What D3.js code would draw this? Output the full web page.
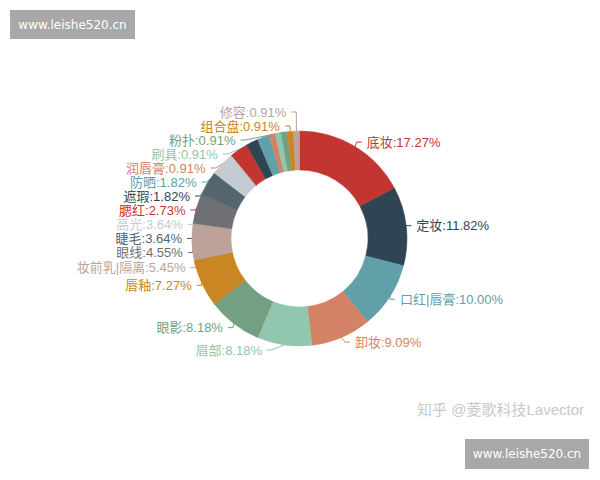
<!DOCTYPE html>
<html>
<head>
<meta charset="utf-8">
<script src="https://cdn.jsdelivr.net/npm/d3@7"></script>
<style>
  html, body { margin: 0; padding: 0; background: #ffffff; }
  svg { display: block; }
</style>
</head>
<body>
<svg id="chart" width="600" height="480"></svg>
<script>
// ---- data ----
const categories = ["底妆", "定妆", "口红|唇膏", "卸妆", "眉部", "眼影", "唇釉", "妆前乳|隔离", "眼线", "睫毛",
  "高光", "腮红", "遮瑕", "防晒", "润唇膏", "刷具", "粉扑", "组合盘", "修容"];
const shares = [17.27, 11.82, 10.00, 9.09, 8.18, 8.18, 7.27, 5.45, 4.55, 3.64,
  3.64, 2.73, 1.82, 1.82, 0.91, 0.91, 0.91, 0.91, 0.91];
const palette = ["#c23531", "#2f4554", "#61a0a8", "#d48265", "#91c7ae", "#749f83",
  "#ca8622", "#bda29a", "#6e7074", "#546570", "#c4ccd3"];
const watermarkText = "www.leishe520.cn";
const creditText = "知乎 @菱歌科技Lavector";

// ---- layout ----
const W = 600, H = 480;
const cx = 299.5, cy = 238.5;
const rOuter = 107.5, rInner = 68.5;
const len = 5, len2 = 5, labelDist = 5, labelH = 14;
const fontFamily = "'Liberation Sans', Arial, 'Noto Sans CJK SC', sans-serif";

const svg = d3.select("#chart");
const color = d3.scaleOrdinal().domain(d3.range(categories.length)).range(palette);

const pie = d3.pie().sort(null).value(d => d).startAngle(0).endAngle(2 * Math.PI);
const arcs = pie(shares);
const arcGen = d3.arc().innerRadius(rInner).outerRadius(rOuter);

// label layout (ECharts-like outer labels with overlap avoidance)
const layouts = arcs.map((a, i) => {
  const mid = (a.startAngle + a.endAngle) / 2;
  const dx = Math.sin(mid), dy = -Math.cos(mid);
  const x1 = cx + dx * rOuter, y1 = cy + dy * rOuter;
  const x2 = cx + dx * (rOuter + len), y2 = cy + dy * (rOuter + len);
  const sign = dx < 0 ? -1 : 1;
  const x3 = x2 + sign * len2;
  const textX = x3 + sign * labelDist;
  return { i, x: textX, y: y2, x1, y1, dist: x2 - x3, height: labelH };
});

function adjustSingleSide(list, dir) {
  list.sort((a, b) => a.y - b.y);
  const n = list.length;
  function shiftDown(start, end, delta) {
    for (let j = start; j < end; j++) {
      list[j].y += delta;
      if (j > start && j + 1 < end && list[j + 1].y > list[j].y + list[j].height) {
        shiftUp(j, delta / 2);
        return;
      }
    }
    shiftUp(end - 1, delta / 2);
  }
  function shiftUp(end, delta) {
    for (let j = end; j >= 0; j--) {
      list[j].y -= delta;
      if (j > 0 && list[j].y > list[j - 1].y + list[j - 1].height) break;
    }
  }
  function changeX(sub, isDown) {
    let lastDeltaX = isDown ? Number.MAX_VALUE : 0;
    for (let k = 0; k < sub.length; k++) {
      const dY = Math.abs(sub[k].y - cy);
      let dX = dY < rOuter + len
        ? Math.sqrt((rOuter + len + len2) * (rOuter + len + len2) - dY * dY)
        : Math.abs(sub[k].x - cx);
      if (isDown && dX >= lastDeltaX) dX = lastDeltaX - 10;
      if (!isDown && dX <= lastDeltaX) dX = lastDeltaX + 10;
      sub[k].x = cx + dX * dir;
      lastDeltaX = dX;
    }
  }
  let lastY = 0;
  for (let k = 0; k < n; k++) {
    const delta = list[k].y - lastY;
    if (delta < 0) shiftDown(k, n, -delta);
    lastY = list[k].y + list[k].height;
  }
  if (H - lastY < 0) shiftUp(n - 1, lastY - H);
  const up = [], down = [];
  list.forEach(l => (l.y >= cy ? down : up).push(l));
  changeX(up, false);
  changeX(down, true);
}

const leftList = layouts.filter(l => l.x < cx);
const rightList = layouts.filter(l => l.x >= cx);
adjustSingleSide(rightList, 1);
adjustSingleSide(leftList, -1);

layouts.forEach(l => {
  l.left = l.x < cx;
  const p2x = l.left ? l.x + labelDist : l.x - labelDist;
  const p1x = p2x + l.dist;
  l.points = [[l.x1, l.y1], [p1x, l.y], [p2x, l.y]];
});

// label lines first (sectors drawn above them)
svg.append("g").selectAll("polyline").data(layouts).join("polyline")
  .attr("points", d => d.points.map(p => p.join(",")).join(" "))
  .attr("fill", "none")
  .attr("stroke", d => color(d.i))
  .attr("stroke-width", 1);

svg.append("g").attr("transform", `translate(${cx},${cy})`)
  .selectAll("path").data(arcs).join("path")
  .attr("d", arcGen)
  .attr("fill", (d, i) => color(i))
  .attr("stroke", (d, i) => color(i))
  .attr("stroke-width", 0.5);

svg.append("g").selectAll("text").data(layouts).join("text")
  .attr("x", d => d.x)
  .attr("y", d => d.y)
  .attr("dy", "0.36em")
  .attr("text-anchor", d => d.left ? "end" : "start")
  .attr("font-family", fontFamily)
  .attr("font-size", 13)
  .attr("fill", d => color(d.i))
  .text(d => `${categories[d.i]}:${shares[d.i].toFixed(2)}%`);

// credit watermark
svg.append("text")
  .attr("x", 584).attr("y", 415)
  .attr("text-anchor", "end")
  .attr("font-family", fontFamily)
  .attr("font-size", 15)
  .attr("fill", "#c9c9c9")
  .text(creditText);

// site watermark boxes
const boxes = [{ x: 10, y: 10, w: 125, h: 29 }, { x: 465, y: 439, w: 124, h: 30 }];
const bg = svg.append("g").selectAll("g").data(boxes).join("g");
bg.append("rect")
  .attr("x", d => d.x).attr("y", d => d.y)
  .attr("width", d => d.w).attr("height", d => d.h)
  .attr("fill", "#a8a8a8");
bg.append("text")
  .attr("x", d => d.x + d.w / 2).attr("y", d => d.y + d.h / 2)
  .attr("dy", "0.35em")
  .attr("text-anchor", "middle")
  .attr("font-family", "'DejaVu Sans', 'Liberation Sans', sans-serif")
  .attr("font-size", 12)
  .attr("fill", "#ffffff")
  .text(watermarkText);
</script>
</body>
</html>
